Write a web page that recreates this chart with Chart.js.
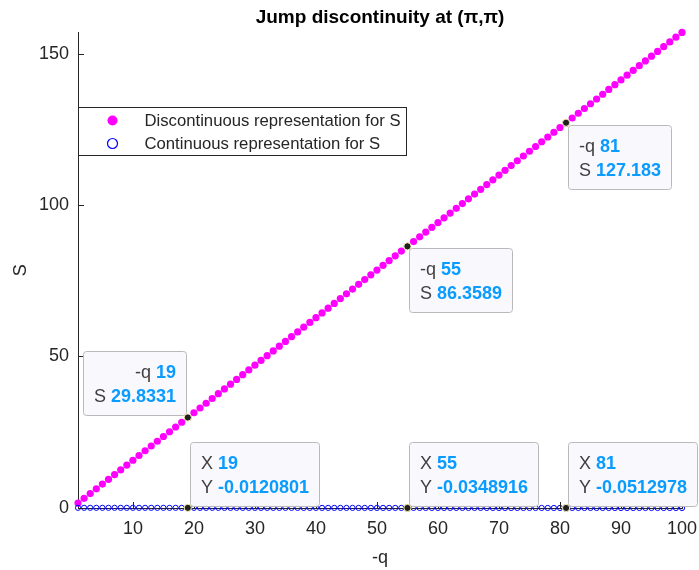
<!DOCTYPE html>
<html>
<head>
<meta charset="utf-8">
<title>Jump discontinuity at (π,π)</title>
<script src="https://cdn.jsdelivr.net/npm/chart.js@4/dist/chart.umd.min.js"></script>
<style>
  html, body { margin: 0; padding: 0; background: #ffffff; }
  #wrap { width: 699px; height: 570px; }
</style>
</head>
<body>
<div id="wrap"><canvas id="c" width="699" height="570"></canvas></div>
<script>
// -q sample positions
const q = [
  1, 2, 3, 4, 5, 6, 7, 8, 9, 10,
  11, 12, 13, 14, 15, 16, 17, 18, 19, 20,
  21, 22, 23, 24, 25, 26, 27, 28, 29, 30,
  31, 32, 33, 34, 35, 36, 37, 38, 39, 40,
  41, 42, 43, 44, 45, 46, 47, 48, 49, 50,
  51, 52, 53, 54, 55, 56, 57, 58, 59, 60,
  61, 62, 63, 64, 65, 66, 67, 68, 69, 70,
  71, 72, 73, 74, 75, 76, 77, 78, 79, 80,
  81, 82, 83, 84, 85, 86, 87, 88, 89, 90,
  91, 92, 93, 94, 95, 96, 97, 98, 99, 100
];

// S from the discontinuous representation
const sDiscontinuous = [
  1.57, 3.14, 4.71, 6.28, 7.85, 9.42, 10.99, 12.56, 14.13, 15.70,
  17.27, 18.84, 20.41, 21.98, 23.55, 25.12, 26.69, 28.26, 29.8331, 31.40,
  32.97, 34.54, 36.11, 37.68, 39.25, 40.82, 42.39, 43.96, 45.53, 47.10,
  48.67, 50.25, 51.82, 53.39, 54.96, 56.53, 58.10, 59.67, 61.24, 62.81,
  64.38, 65.95, 67.52, 69.09, 70.66, 72.23, 73.80, 75.37, 76.94, 78.51,
  80.08, 81.65, 83.22, 84.79, 86.3589, 87.93, 89.50, 91.07, 92.64, 94.21,
  95.78, 97.35, 98.92, 100.49, 102.06, 103.63, 105.20, 106.77, 108.34, 109.91,
  111.48, 113.05, 114.62, 116.19, 117.76, 119.33, 120.90, 122.47, 124.04, 125.61,
  127.183, 128.75, 130.32, 131.89, 133.46, 135.03, 136.60, 138.17, 139.74, 141.31,
  142.89, 144.45, 146.02, 147.60, 149.17, 150.74, 152.31, 153.88, 155.45, 157.02
];

// S from the continuous representation
const sContinuous = [
  -0.0006, -0.0013, -0.0019, -0.0025, -0.0032, -0.0038, -0.0044, -0.0051, -0.0057, -0.0064,
  -0.0070, -0.0076, -0.0083, -0.0089, -0.0095, -0.0102, -0.0108, -0.0114, -0.0120801, -0.0127,
  -0.0133, -0.0140, -0.0146, -0.0152, -0.0159, -0.0165, -0.0171, -0.0178, -0.0184, -0.0191,
  -0.0197, -0.0203, -0.0210, -0.0216, -0.0222, -0.0229, -0.0235, -0.0241, -0.0248, -0.0254,
  -0.0260, -0.0267, -0.0273, -0.0279, -0.0286, -0.0292, -0.0298, -0.0305, -0.0311, -0.0318,
  -0.0324, -0.0330, -0.0337, -0.0343, -0.0348916, -0.0356, -0.0362, -0.0368, -0.0375, -0.0381,
  -0.0387, -0.0394, -0.0400, -0.0406, -0.0413, -0.0419, -0.0425, -0.0432, -0.0438, -0.0445,
  -0.0451, -0.0457, -0.0464, -0.0470, -0.0476, -0.0483, -0.0489, -0.0495, -0.0502, -0.0508,
  -0.0512978, -0.0521, -0.0527, -0.0533, -0.0540, -0.0546, -0.0552, -0.0559, -0.0565, -0.0572,
  -0.0578, -0.0584, -0.0591, -0.0597, -0.0603, -0.0610, -0.0616, -0.0622, -0.0629, -0.0635
];

// axis ticks
const xTicks = [10, 20, 30, 40, 50, 60, 70, 80, 90, 100];
const yTicks = [0, 50, 100, 150];

// indices of the pinned data tips
const tipIndices = [18, 54, 80];

const FONT = "'Liberation Sans', Arial, Helvetica, sans-serif";
const AXIS = '#262626';
const TIP_VALUE = '#0a9bff';
const TIP_LABEL = '#404040';

// pinned data tips: dataset, labels, and which side of the point the box sits on
const dataTips = [
  { ds: 0, idx: tipIndices[0], names: ['-q', 'S'], hx: 'left',  vy: 'up'   },
  { ds: 0, idx: tipIndices[1], names: ['-q', 'S'], hx: 'right', vy: 'down' },
  { ds: 0, idx: tipIndices[2], names: ['-q', 'S'], hx: 'right', vy: 'down' },
  { ds: 1, idx: tipIndices[0], names: ['X', 'Y'],  hx: 'right', vy: 'up'   },
  { ds: 1, idx: tipIndices[1], names: ['X', 'Y'],  hx: 'right', vy: 'up'   },
  { ds: 1, idx: tipIndices[2], names: ['X', 'Y'],  hx: 'right', vy: 'up'   }
];

const points = (ys) => q.map((x, i) => ({ x: x, y: ys[i] }));

// inward tick marks on both axes
const innerTicks = {
  id: 'innerTicks',
  afterDatasetsDraw(chart) {
    const { ctx, chartArea: a, scales: { x, y } } = chart;
    const len = 6;
    ctx.save();
    ctx.strokeStyle = AXIS;
    ctx.lineWidth = 1;
    ctx.beginPath();
    x.ticks.forEach(t => {
      const px = Math.round(x.getPixelForValue(t.value)) + 0.5;
      ctx.moveTo(px, a.bottom);
      ctx.lineTo(px, a.bottom - len);
    });
    y.ticks.forEach(t => {
      const py = Math.round(y.getPixelForValue(t.value)) + 0.5;
      ctx.moveTo(a.left, py);
      ctx.lineTo(a.left + len, py);
    });
    ctx.stroke();
    ctx.restore();
  }
};

// boxed legend in the upper left of the plot
const boxLegend = {
  id: 'boxLegend',
  afterDraw(chart) {
    const { ctx, chartArea: a } = chart;
    const x0 = a.left + 0.5, y0 = 107.5, w = 328, h = 48;
    ctx.save();
    ctx.fillStyle = '#ffffff';
    ctx.fillRect(x0, y0, w, h);
    ctx.strokeStyle = AXIS;
    ctx.lineWidth = 1;
    ctx.strokeRect(x0, y0, w, h);
    ctx.font = '16.7px ' + FONT;
    ctx.textBaseline = 'middle';
    ctx.textAlign = 'left';
    chart.data.datasets.forEach((ds, i) => {
      const cy = y0 + 13 + i * 23;
      const mx = x0 + 34;
      ctx.beginPath();
      ctx.arc(mx, cy, 5, 0, Math.PI * 2);
      if (i === 0) {
        ctx.fillStyle = ds.backgroundColor;
        ctx.fill();
      } else {
        ctx.strokeStyle = ds.borderColor;
        ctx.lineWidth = 1.2;
        ctx.stroke();
      }
      ctx.fillStyle = AXIS;
      ctx.fillText(ds.label, x0 + 66, cy + 1);
    });
    ctx.restore();
  }
};

// pinned data tips with a dark marker on the point
const pinnedTips = {
  id: 'pinnedTips',
  afterDraw(chart) {
    const { ctx, scales: { x, y } } = chart;
    const normal = '18px ' + FONT;
    const bold = 'bold 18px ' + FONT;
    const padX = 10.5, h = 64;
    ctx.save();
    dataTips.forEach(tip => {
      const p = chart.data.datasets[tip.ds].data[tip.idx];
      const px = x.getPixelForValue(p.x);
      const py = y.getPixelForValue(p.y);
      const rows = [[tip.names[0] + ' ', String(p.x)], [tip.names[1] + ' ', String(p.y)]];
      const widths = rows.map(r => {
        ctx.font = normal; const a = ctx.measureText(r[0]).width;
        ctx.font = bold; const b = ctx.measureText(r[1]).width;
        return [a, b];
      });
      const textW = Math.max(...widths.map(w => w[0] + w[1]));
      const w = Math.round(textW + 2 * padX);
      const bx = Math.round(tip.hx === 'right' ? px + 2 : px - 2 - w) + 0.5;
      const by = Math.round(tip.vy === 'up' ? py - 2 - h : py + 2) + 0.5;

      ctx.beginPath();
      ctx.roundRect(bx, by, w, h, 3);
      ctx.fillStyle = 'rgba(249,249,253,0.97)';
      ctx.fill();
      ctx.strokeStyle = '#b9b9b9';
      ctx.lineWidth = 1;
      ctx.stroke();

      ctx.textBaseline = 'middle';
      ctx.textAlign = 'left';
      rows.forEach((r, k) => {
        const cy = by + 22 + k * 23.5;
        const lineW = widths[k][0] + widths[k][1];
        const tx = tip.hx === 'right' ? bx + padX : bx + w - padX - lineW;
        ctx.font = normal;
        ctx.fillStyle = TIP_LABEL;
        ctx.fillText(r[0], tx, cy);
        ctx.font = bold;
        ctx.fillStyle = TIP_VALUE;
        ctx.fillText(r[1], tx + widths[k][0], cy);
      });

      ctx.beginPath();
      ctx.arc(px, py, 3.6, 0, Math.PI * 2);
      ctx.fillStyle = '#202020';
      ctx.fill();
      ctx.strokeStyle = '#f5f0b8';
      ctx.lineWidth = 1;
      ctx.stroke();
    });
    ctx.restore();
  }
};

new Chart(document.getElementById('c'), {
  type: 'scatter',
  data: {
    datasets: [
      {
        label: 'Discontinuous representation for S',
        data: points(sDiscontinuous),
        pointStyle: 'circle',
        pointRadius: 3.6,
        pointBorderWidth: 0,
        backgroundColor: '#ff00ff',
        borderColor: '#ff00ff',
        clip: false,
        order: 1
      },
      {
        label: 'Continuous representation for S',
        data: points(sContinuous),
        pointStyle: 'circle',
        pointRadius: 2.6,
        pointBorderWidth: 1,
        backgroundColor: 'rgba(0,0,0,0)',
        borderColor: '#0000ff',
        clip: false,
        order: 0
      }
    ]
  },
  options: {
    responsive: false,
    animation: false,
    devicePixelRatio: 1,
    events: [],
    layout: { padding: { left: 0, right: 17, top: 0, bottom: 0 } },
    plugins: {
      legend: { display: false },
      tooltip: { enabled: false },
      title: {
        display: true,
        fullSize: false,
        text: 'Jump discontinuity at (π,π)',
        color: '#000000',
        font: { family: FONT, size: 19, weight: 'bold' },
        padding: { top: 6.6, bottom: 3 }
      }
    },
    scales: {
      x: {
        type: 'linear',
        position: 'bottom',
        min: 1,
        max: 100,
        afterBuildTicks: s => { s.ticks = xTicks.map(v => ({ value: v })); },
        afterFit: s => { s.height = 62; s.paddingLeft = 0; s.paddingRight = 0; },
        grid: { display: true, drawOnChartArea: false, drawTicks: false },
        border: { display: true, color: AXIS, width: 1 },
        ticks: {
          color: AXIS,
          font: { family: FONT, size: 18 },
          padding: 10,
          maxRotation: 0,
          autoSkip: false
        },
        title: {
          display: true,
          text: '-q',
          color: AXIS,
          font: { family: FONT, size: 18 },
          padding: { top: 0, bottom: 1 }
        }
      },
      y: {
        type: 'linear',
        position: 'left',
        min: -0.0635,
        max: 157.02,
        afterBuildTicks: s => { s.ticks = yTicks.map(v => ({ value: v })); },
        afterFit: s => { s.width = 78; s.paddingTop = 0; s.paddingBottom = 0; },
        grid: { display: true, drawOnChartArea: false, drawTicks: false },
        border: { display: true, color: AXIS, width: 1 },
        ticks: {
          color: AXIS,
          font: { family: FONT, size: 18 },
          padding: 9,
          autoSkip: false
        },
        title: {
          display: true,
          text: 'S',
          color: AXIS,
          font: { family: FONT, size: 18 },
          padding: { top: 10, bottom: 0 }
        }
      }
    }
  },
  plugins: [innerTicks, boxLegend, pinnedTips]
});
</script>
</body>
</html>
